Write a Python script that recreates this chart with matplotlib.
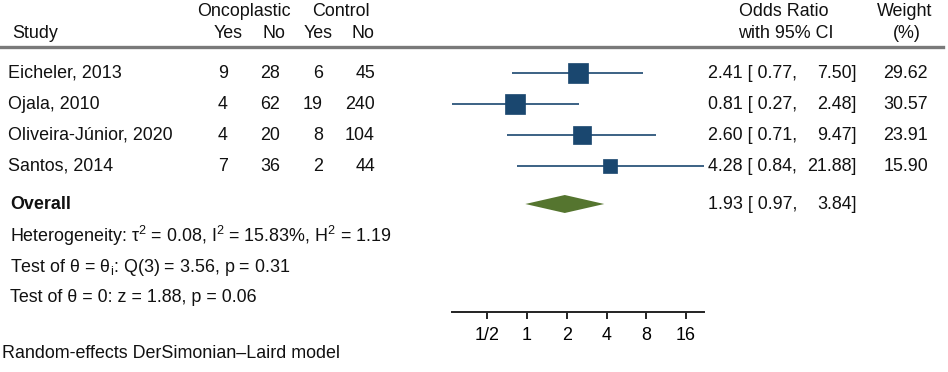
import numpy as np
import matplotlib
matplotlib.use("Agg")
import matplotlib.pyplot as plt
import matplotlib.transforms as mtransforms
from matplotlib.lines import Line2D

plt.rcParams['font.family'] = ['Liberation Sans', 'DejaVu Sans']
plt.rcParams['mathtext.fontset'] = 'custom'
plt.rcParams['mathtext.rm'] = 'Liberation Sans'
plt.rcParams['mathtext.it'] = 'Liberation Sans:italic'
plt.rcParams['mathtext.default'] = 'regular'

# Data
studies = ["Eicheler, 2013", "Ojala, 2010", "Oliveira-Júnior, 2020", "Santos, 2014"]
onco_yes = [9, 4, 4, 7]
onco_no = [28, 62, 20, 36]
ctrl_yes = [6, 19, 8, 2]
ctrl_no = [45, 240, 104, 44]
odds_ratio = [2.41, 0.81, 2.60, 4.28]
ci_low = [0.77, 0.27, 0.71, 0.84]
ci_high = [7.50, 2.48, 9.47, 21.88]
weight = [29.62, 30.57, 23.91, 15.90]
overall_or = 1.93
overall_low = 0.97
overall_high = 3.84
tick_vals = [0.5, 1, 2, 4, 8, 16]
tick_labels = ["1/2", "1", "2", "4", "8", "16"]

NAVY = '#1a476f'
GREEN = '#55752f'
FS = 12.9
W, H = 948, 372

fig = plt.figure(figsize=(W / 100, H / 100), dpi=100)

# plot area: pixel geometry of the reference
top_px, bot_px, row0_px, row_step = 47, 312, 73, 31
ax = fig.add_axes([452 / W, 1 - bot_px / H, 252 / W, (bot_px - top_px) / H])
ax.set_xscale('log', base=2)
ax.set_xlim(min(ci_low), max(ci_high))
ax.set_ylim((bot_px - row0_px) / row_step, (top_px - row0_px) / row_step)


def row(px):
    return (px - row0_px) / row_step


rows = np.arange(len(studies))

# CI lines and weighted squares
for i in rows:
    ax.plot([ci_low[i], ci_high[i]], [i, i], color=NAVY, lw=1.2, solid_capstyle='butt')
    ax.plot(odds_ratio[i], i, marker='s', color=NAVY, ms=2.65 * np.sqrt(weight[i]),
            mec=NAVY, mew=0.5)

# overall diamond
oy = row(204)
dh = 0.29
ax.fill([overall_low, overall_or, overall_high, overall_or],
        [oy, oy - dh, oy, oy + dh], color=GREEN, lw=0)

for s in ['top', 'left', 'right']:
    ax.spines[s].set_visible(False)
ax.spines['bottom'].set_linewidth(1.4)
ax.spines['bottom'].set_color('#222222')
ax.set_yticks([])
ax.set_xticks(tick_vals)
ax.set_xticklabels(tick_labels, fontsize=FS)
ax.xaxis.set_minor_locator(matplotlib.ticker.NullLocator())
ax.tick_params(axis='x', direction='out', length=5, width=1.4, color='#222222', pad=6)

# header rule across the figure
fig.add_artist(Line2D([0, 943 / W], [1 - top_px / H] * 2, transform=fig.transFigure,
                      color='#7a7a7a', lw=2.4))

tr = mtransforms.blended_transform_factory(fig.transFigure, ax.transData)


def put(x, y, s, ha='left', **kw):
    fig.text(x / W, 1 - y / H, s, ha=ha, va='center', fontsize=FS, color='#111111', **kw)


# headers
put(244, 11, "Oncoplastic", ha='center')
put(341, 11, "Control", ha='center')
put(12, 34, "Study")
for x, s in zip([228, 274, 318, 363], ["Yes", "No", "Yes", "No"]):
    put(x, 34, s, ha='center')
put(784, 11, "Odds Ratio", ha='center')
put(786, 34, "with 95% CI", ha='center')
put(905, 11, "Weight", ha='center')
put(907, 34, "(%)", ha='center')

# study rows
for i in rows:
    kw = dict(transform=tr, va='center', fontsize=FS, color='#111111')
    ax.text(8 / W, i, studies[i], ha='left', **kw)
    for x, v in zip([228, 280, 323, 375], [onco_yes[i], onco_no[i], ctrl_yes[i], ctrl_no[i]]):
        ax.text(x / W, i, str(v), ha='right', **kw)
    ax.text(708 / W, i, f"{odds_ratio[i]:.2f} [ {ci_low[i]:.2f},", ha='left', **kw)
    ax.text(857 / W, i, f"{ci_high[i]:.2f}]", ha='right', **kw)
    ax.text(928 / W, i, f"{weight[i]:.2f}", ha='right', **kw)

kw = dict(transform=tr, va='center', fontsize=FS, color='#111111')
ax.text(10 / W, oy, "Overall", ha='left', fontweight='bold', **kw)
ax.text(708 / W, oy, f"{overall_or:.2f} [ {overall_low:.2f},", ha='left', **kw)
ax.text(857 / W, oy, f"{overall_high:.2f}]", ha='right', **kw)

put(10, 236, r"Heterogeneity: τ$^{2}$ = 0.08, I$^{2}$ = 15.83%, H$^{2}$ = 1.19")
put(10, 267, r"Test of θ = θ$_{i}$: Q(3) = 3.56, p = 0.31")
put(10, 297, "Test of θ = 0: z = 1.88, p = 0.06")
put(2, 354, "Random-effects DerSimonian–Laird model")

fig.savefig("out.png", dpi=100)
